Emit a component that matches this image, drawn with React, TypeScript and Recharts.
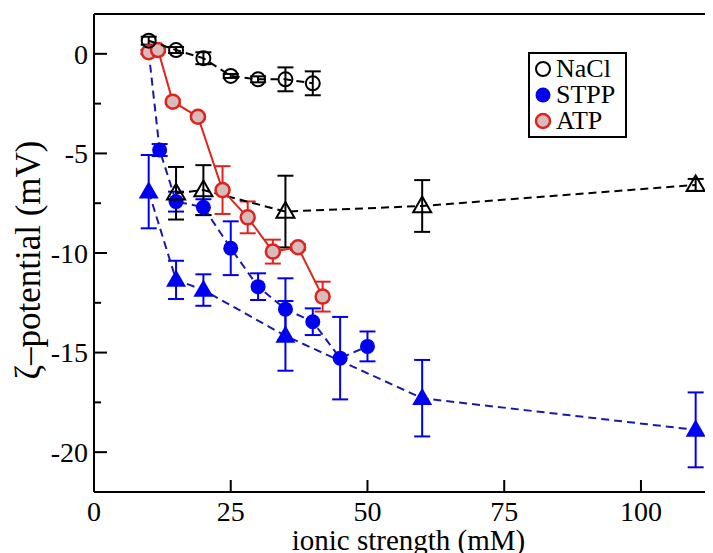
// Zeta potential vs ionic strength — xmgrace-style scatter plot with error bars.
// Frame ticks point inward, so the axes draw their own tick marks.
import React from "react";
import { ComposedChart, Scatter, XAxis, YAxis, ErrorBar } from "recharts";

// ---- data ----
const naclX = [10, 15, 20, 25, 30, 35, 40];
const naclY = [0.66, 0.19, -0.22, -1.11, -1.28, -1.28, -1.48];
const naclErr = [0.2, 0.15, 0.3, 0.1, 0.15, 0.6, 0.6];

const stppX = [10, 12, 15, 20, 25, 30, 35, 40, 45, 50];
const stppY = [0.1, -4.83, -7.42, -7.7, -9.76, -11.69, -12.82, -13.45, -15.28, -14.69];
const stppErr = [0.1, 0.3, 0.5, 0.4, 1.35, 0.67, 1.55, 0.67, 2.07, 0.75];

const atpX = [10, 11.7, 14.4, 19, 23.5, 28.1, 32.7, 37.3, 41.8];
const atpY = [0.08, 0.19, -2.4, -3.16, -6.84, -8.21, -9.93, -9.71, -12.19];
const atpErr = [0.1, 0.1, 0.1, 0.1, 1.2, 0.8, 0.6, 0.15, 0.75];

// open black triangles (NaCl, second set)
const naclTriX = [15, 20, 35, 60, 110];
const naclTriY = [-7.0, -6.84, -7.92, -7.64, -6.58];
const naclTriErr = [1.32, 1.25, 1.8, 1.3, 0.3];

// filled blue triangles (STPP, second set)
const stppTriX = [10, 15, 20, 35, 60, 110];
const stppTriY = [-6.92, -11.35, -11.86, -14.16, -17.29, -18.88];
const stppTriErr = [1.84, 0.96, 0.79, 1.75, 1.92, 1.88];

const xTicks = [0, 25, 50, 75, 100];
const yTicks = [-20, -17.5, -15, -12.5, -10, -7.5, -5, -2.5, 0];
const yRightTicks = [-20, -15, -10, -5, 0];

const legendItems = ["NaCl", "STPP", "ATP"];

const pts = (xs: number[], ys: number[], es: number[]) =>
  xs.map((x, i) => ({ x, y: ys[i], err: es[i] }));

const FONT = "Liberation Serif, Times New Roman, DejaVu Serif, serif";
const BLUE = "#0000f0";
const NAVY = "#1a1aa8";
const RED = "#e0231c";
const ATP_FILL = "#d8bcbc";

// ---- marker shapes ----
const OpenCircle = ({ cx, cy }: any) => (
  <circle cx={cx} cy={cy} r={7} fill="none" stroke="#000" strokeWidth={2} />
);
const BlueDot = ({ cx, cy }: any) => <circle cx={cx} cy={cy} r={7.5} fill={BLUE} />;
const AtpDot = ({ cx, cy }: any) => (
  <circle cx={cx} cy={cy} r={7} fill={ATP_FILL} stroke={RED} strokeWidth={2.5} />
);
const tri = (cx: number, cy: number, s: number) =>
  `${cx},${cy - s} ${cx - s * 0.95},${cy + s * 0.65} ${cx + s * 0.95},${cy + s * 0.65}`;
const OpenTri = ({ cx, cy }: any) => (
  <polygon points={tri(cx, cy, 9.5)} fill="none" stroke="#000" strokeWidth={2} />
);
const BlueTri = ({ cx, cy }: any) => <polygon points={tri(cx, cy, 10.5)} fill={BLUE} />;

// ---- inward ticks ----
function LeftTick({ x, y, payload }: any) {
  const v = payload.value;
  const major = v % 5 === 0;
  const ax = x + 6;
  return (
    <g>
      <line x1={ax} x2={ax + (major ? 13 : 7)} y1={y} y2={y} stroke="#000" strokeWidth={2} />
      {major && (
        <text x={x} y={y} dy="0.35em" textAnchor="end" fontFamily={FONT} fontSize={28} fill="#000">
          {v}
        </text>
      )}
    </g>
  );
}
function RightTick({ x, y }: any) {
  const ax = x - 6;
  return <line x1={ax} x2={ax - 13} y1={y} y2={y} stroke="#000" strokeWidth={2} />;
}
function BottomTick({ x, y, payload }: any) {
  return (
    <g>
      {payload.value !== 0 && (
        <line x1={x} x2={x} y1={y} y2={y - 12} stroke="#000" strokeWidth={2} />
      )}
      <text x={x} y={y + 29} textAnchor="middle" fontFamily={FONT} fontSize={28} fill="#000">
        {payload.value}
      </text>
    </g>
  );
}
function TopTick({ x, y, payload }: any) {
  if (payload.value === 0) return null;
  return <line x1={x} x2={x} y1={y} y2={y + 12} stroke="#000" strokeWidth={2} />;
}

const XTitle = ({ viewBox }: any) => (
  <text
    x={viewBox.x + viewBox.width / 2}
    y={viewBox.y + 58}
    textAnchor="middle"
    fontFamily={FONT}
    fontSize={29}
    fill="#000"
  >
    ionic strength (mM)
  </text>
);
const YTitle = () => (
  <text
    x={20}
    y={252}
    transform="rotate(-90 20 252)"
    textAnchor="middle"
    dy="0.35em"
    fontFamily={FONT}
    fontSize={35}
    fill="#000"
  >
    ζ–potential (mV)
  </text>
);

function Legend() {
  const icon = (name: string) => {
    if (name === "NaCl") return <OpenCircle cx={9} cy={9} />;
    if (name === "STPP") return <BlueDot cx={9} cy={9} />;
    return <AtpDot cx={9} cy={9} />;
  };
  return (
    <div
      style={{
        position: "absolute",
        left: 520,
        top: 44,
        width: 99,
        height: 86,
        border: "2px solid #000",
        background: "#fff",
        fontFamily: FONT,
        fontSize: 26,
        lineHeight: "26px",
        paddingTop: 2,
        boxSizing: "border-box",
      }}
    >
      {legendItems.map((name) => (
        <div key={name} style={{ display: "flex", alignItems: "center", height: 26 }}>
          <svg width={18} height={18} style={{ marginLeft: 4, marginRight: 4 }}>
            {icon(name)}
          </svg>
          <span>{name}</span>
        </div>
      ))}
    </div>
  );
}

const lineDash = (stroke: string) => ({ stroke, strokeWidth: 2, strokeDasharray: "8 5" });

export default function App() {
  return (
    <div style={{ position: "relative", width: 705, height: 545, overflow: "hidden", background: "#fff" }}>
      <ComposedChart width={740} height={545} margin={{ top: 5, right: 24, left: 0, bottom: 0 }}>
        <XAxis
          xAxisId="b"
          type="number"
          dataKey="x"
          domain={[0, 115]}
          ticks={xTicks}
          interval={0}
          height={61}
          tickSize={0}
          tickMargin={0}
          tick={<BottomTick />}
          axisLine={{ stroke: "#000", strokeWidth: 2 }}
          label={<XTitle />}
        />
        <XAxis
          xAxisId="t"
          orientation="top"
          type="number"
          dataKey="x"
          domain={[0, 115]}
          ticks={xTicks}
          interval={0}
          height={1}
          tickSize={0}
          tickMargin={0}
          tick={<TopTick />}
          axisLine={{ stroke: "#000", strokeWidth: 2 }}
        />
        <YAxis
          yAxisId="l"
          type="number"
          dataKey="y"
          domain={[-22, 2]}
          ticks={yTicks}
          interval={0}
          width={86}
          tickSize={0}
          tickMargin={6}
          tick={<LeftTick />}
          axisLine={{ stroke: "#000", strokeWidth: 2 }}
          label={<YTitle />}
        />
        <YAxis
          yAxisId="r"
          orientation="right"
          type="number"
          dataKey="y"
          domain={[-22, 2]}
          ticks={yRightTicks}
          interval={0}
          width={1}
          tickSize={0}
          tickMargin={6}
          tick={<RightTick />}
          axisLine={{ stroke: "#000", strokeWidth: 2 }}
        />

        <Scatter
          xAxisId="b"
          yAxisId="l"
          data={pts(stppTriX, stppTriY, stppTriErr)}
          shape={<BlueTri />}
          line={lineDash(NAVY)}
          isAnimationActive={false}
        >
          <ErrorBar dataKey="err" direction="y" width={8} stroke={BLUE} strokeWidth={2} />
        </Scatter>
        <Scatter
          xAxisId="b"
          yAxisId="l"
          data={pts(stppX, stppY, stppErr)}
          shape={<BlueDot />}
          line={lineDash(NAVY)}
          isAnimationActive={false}
        >
          <ErrorBar dataKey="err" direction="y" width={8} stroke={BLUE} strokeWidth={2} />
        </Scatter>
        <Scatter
          xAxisId="b"
          yAxisId="l"
          data={pts(naclTriX, naclTriY, naclTriErr)}
          shape={<OpenTri />}
          line={lineDash("#000")}
          isAnimationActive={false}
        >
          <ErrorBar dataKey="err" direction="y" width={8} stroke="#000" strokeWidth={2} />
        </Scatter>
        <Scatter
          xAxisId="b"
          yAxisId="l"
          data={pts(atpX, atpY, atpErr)}
          shape={<AtpDot />}
          line={{ stroke: RED, strokeWidth: 2 }}
          isAnimationActive={false}
        >
          <ErrorBar dataKey="err" direction="y" width={8} stroke={RED} strokeWidth={2} />
        </Scatter>
        <Scatter
          xAxisId="b"
          yAxisId="l"
          data={pts(naclX, naclY, naclErr)}
          shape={<OpenCircle />}
          line={lineDash("#000")}
          isAnimationActive={false}
        >
          <ErrorBar dataKey="err" direction="y" width={8} stroke="#000" strokeWidth={2} />
        </Scatter>
      </ComposedChart>
      <Legend />
    </div>
  );
}
